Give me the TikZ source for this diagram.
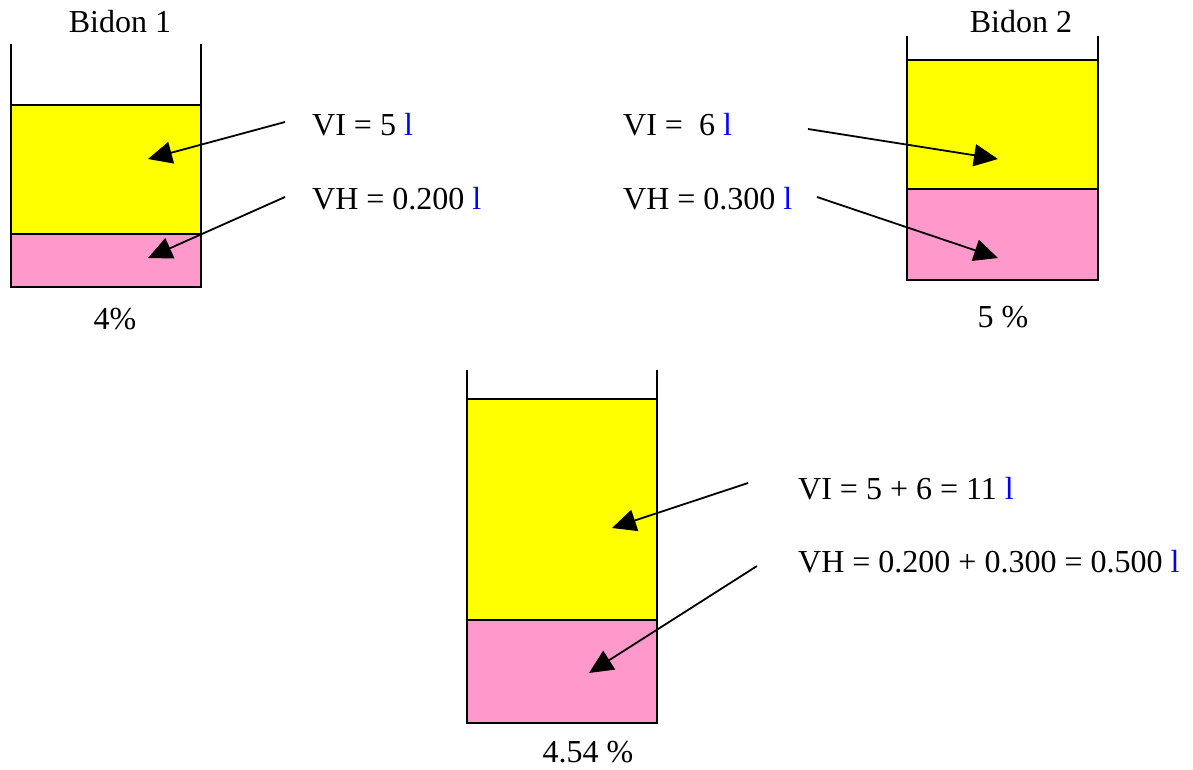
\documentclass[tikz,border=0pt]{standalone}
\usepackage{fontspec}
\setmainfont{Liberation Serif}
\usetikzlibrary{arrows.meta}
\definecolor{oilyellow}{HTML}{FFFF00}
\definecolor{waterpink}{HTML}{FF99CC}
\definecolor{unitblue}{HTML}{0000FF}
\newcommand{\unitl}{\textcolor{unitblue}{l}}
\begin{document}
\begin{tikzpicture}[x=1pt,y=-1pt,
  lbl/.style={font=\fontsize{32}{38}\selectfont, inner sep=0pt, anchor=base west},
  ttl/.style={font=\fontsize{32}{38}\selectfont, inner sep=0pt, anchor=base},
  ptr/.style={line width=1.8pt, -{Triangle[length=24pt,width=22pt]}},
  wall/.style={line width=2.2pt, line join=miter},
  layerbox/.style={draw=black, line width=2pt}]
\useasboundingbox (0,0) rectangle (1193,769);

% ---- Bidon 1
\draw[layerbox, fill=oilyellow] (11,105) rectangle (201,234);
\draw[layerbox, fill=waterpink] (11,234) rectangle (201,287);
\draw[wall] (11,44) -- (11,287) -- (201,287) -- (201,44);
\node[ttl] (t1) at (120,32) {Bidon 1};
\node[ttl] (p1) at (115,329) {4\%};
\node[lbl] (vi1) at (312,135) {VI = 5 \unitl};
\node[lbl] (vh1) at (312,209) {VH = 0.200 \unitl};
\coordinate (vi1s) at (285,122);
\coordinate (vi1t) at (148,159);
\coordinate (vh1s) at (285,197);
\coordinate (vh1t) at (148,258);
\draw[ptr] (vi1s) -- (vi1t);
\draw[ptr] (vh1s) -- (vh1t);

% ---- Bidon 2
\draw[layerbox, fill=oilyellow] (907,60) rectangle (1098,189);
\draw[layerbox, fill=waterpink] (907,189) rectangle (1098,280);
\draw[wall] (907,36) -- (907,280) -- (1098,280) -- (1098,36);
\node[ttl] (t2) at (1021,32) {Bidon 2};
\node[ttl] (p2) at (1003,327) {5 \%};
\node[lbl] (vi2) at (623,135) {VI =\ \ 6 \unitl};
\node[lbl] (vh2) at (623,209) {VH = 0.300 \unitl};
\coordinate (vi2s) at (808,129);
\coordinate (vi2t) at (998,159);
\coordinate (vh2s) at (817,197);
\coordinate (vh2t) at (998,258);
\draw[ptr] (vi2s) -- (vi2t);
\draw[ptr] (vh2s) -- (vh2t);

% ---- Mélange
\draw[layerbox, fill=oilyellow] (467,399) rectangle (657,620);
\draw[layerbox, fill=waterpink] (467,620) rectangle (657,723);
\draw[wall] (467,370) -- (467,723) -- (657,723) -- (657,370);
\node[ttl] (p3) at (588,762) {4.54 \%};
\node[lbl] (vi3) at (798,499) {VI = 5 + 6 = 11 \unitl};
\node[lbl] (vh3) at (798,572) {VH = 0.200 + 0.300 = 0.500 \unitl};
\coordinate (vi3s) at (748,483);
\coordinate (vi3t) at (612,528);
\coordinate (vh3s) at (757,566);
\coordinate (vh3t) at (589,673);
\draw[ptr] (vi3s) -- (vi3t);
\draw[ptr] (vh3s) -- (vh3t);
\end{tikzpicture}
\end{document}
